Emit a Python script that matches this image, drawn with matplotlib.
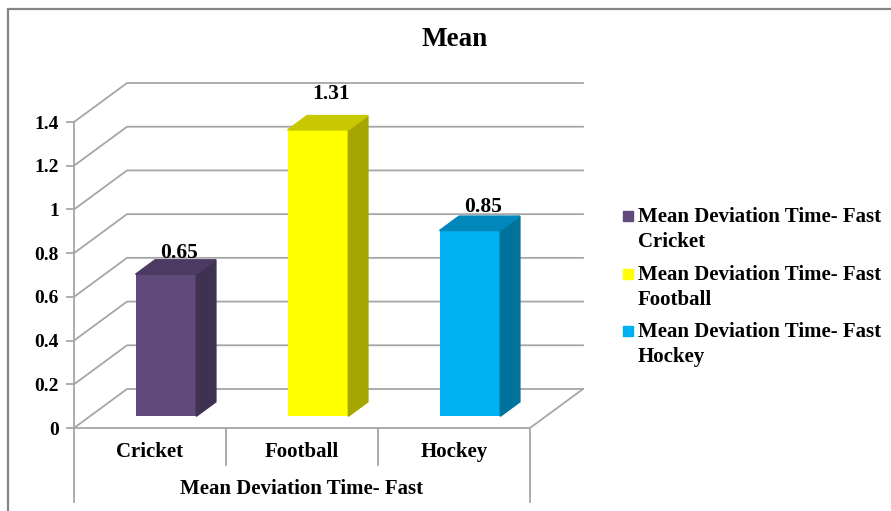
import matplotlib
matplotlib.use("Agg")
import matplotlib.pyplot as plt
from matplotlib.patches import Rectangle

plt.rcParams['font.family'] = ['Liberation Serif', 'DejaVu Serif']
plt.rcParams['font.weight'] = 'bold'

# data
categories = ['Cricket', 'Football', 'Hockey']
means = [0.65, 1.31, 0.85]
group_label = 'Mean Deviation Time- Fast'
y_ticks = [0, 0.2, 0.4, 0.6, 0.8, 1.0, 1.2, 1.4]
y_tick_labels = ['0', '0.2', '0.4', '0.6', '0.8', '1', '1.2', '1.4']

# colours: front, side, top faces
front_cols = ['#604A7B', '#FFFF00', '#00B0F0']
side_cols = ['#3F3151', '#A6A600', '#00739C']
top_cols = ['#4B3A62', '#C8C800', '#0088BA']
label_pad = [0.03, 0.10, 0.04]

W, H = 891, 511
fig = plt.figure(figsize=(W / 100, H / 100), dpi=100)

# front plane of the 3d box in pixels
px_left, px_right = 74, 530
px_top, px_bot = 122, 428
ax = fig.add_axes([px_left / W, (H - px_bot) / H,
                   (px_right - px_left) / W, (px_bot - px_top) / H])
ax.set_xlim(-0.5, 2.5)
ax.set_ylim(0, 1.4)
for s in ax.spines.values():
    s.set_visible(False)
ax.set_xticks([])
ax.set_yticks(y_ticks)
ax.set_yticklabels(y_tick_labels, fontsize=14, fontweight='bold')
ax.tick_params(axis='y', length=6, width=1.2, color='#a0a0a0', pad=5)

px_per_x = (px_right - px_left) / 3.0
px_per_y = (px_bot - px_top) / 1.4
ddx = 53 / px_per_x   # wall depth in data units
ddy = 39 / px_per_y

grid_col = '#a6a6a6'
lw = 1.3

# back wall and side wall gridlines
for v in y_ticks:
    ax.plot([-0.5, -0.5 + ddx, 2.5 + ddx], [v, v + ddy, v + ddy],
            color=grid_col, lw=lw, clip_on=False, zorder=1)
# floor front and right edges
ax.plot([-0.5, 2.5, 2.5 + ddx], [0, 0, ddy], color=grid_col, lw=lw,
        clip_on=False, zorder=1)

# axis line and category box below the floor
y_div = -(465 - px_bot) / px_per_y
y_box = -(502 - px_bot) / px_per_y
y_cat = -(452 - px_bot) / px_per_y
y_grp = -(489 - px_bot) / px_per_y
ax.plot([-0.5, -0.5], [y_box, 1.4], color=grid_col, lw=lw, clip_on=False)
ax.plot([2.5, 2.5], [y_box, 0], color=grid_col, lw=lw, clip_on=False)
for k in range(1, len(categories)):
    ax.plot([k - 0.5, k - 0.5], [y_div, 0], color=grid_col, lw=lw,
            clip_on=False)

# 3d columns
bar_w = 0.4
f0, fd = 0.3, 0.37
for i, (cat, v) in enumerate(zip(categories, means)):
    x0 = i - bar_w / 2 + f0 * ddx
    y0 = f0 * ddy
    bx, by = fd * ddx, fd * ddy
    ax.bar(x0, v, width=bar_w, bottom=y0, align='edge',
           color=front_cols[i], zorder=3, clip_on=False)
    ax.fill([x0 + bar_w, x0 + bar_w + bx, x0 + bar_w + bx, x0 + bar_w],
            [y0, y0 + by, y0 + v + by, y0 + v],
            color=side_cols[i], zorder=3, clip_on=False)
    ax.fill([x0, x0 + bar_w, x0 + bar_w + bx, x0 + bx],
            [y0 + v, y0 + v, y0 + v + by, y0 + v + by],
            color=top_cols[i], zorder=3, clip_on=False)
    ax.text(x0 + bar_w / 2 + 0.085, y0 + v + by + label_pad[i], f'{v:.2f}',
            ha='center', va='center', fontsize=15.5, fontweight='bold',
            zorder=4, clip_on=False)
    ax.text(i, y_cat, cat, ha='center', va='center',
            fontsize=15, fontweight='bold', clip_on=False)

ax.text(1, y_grp, group_label, ha='center', va='center',
        fontsize=15, fontweight='bold', clip_on=False)

# title
fig.text(455 / W, 1 - 39 / H, 'Mean', ha='center', va='center',
         fontsize=19.5, fontweight='bold')

# legend
for i, cat in enumerate(categories):
    yc = 216 + i * 57.5
    fig.patches.append(Rectangle(((623) / W, 1 - (yc + 5) / H), 10 / W, 10 / H,
                                 transform=fig.transFigure,
                                 color=front_cols[i]))
    fig.text(638 / W, 1 - (yc - 9) / H, f'{group_label}\n{cat}',
             ha='left', va='top', fontsize=15, fontweight='bold',
             linespacing=1.35)

# chart border
fig.patches.append(Rectangle((8 / W, -0.1), 1.2, 1 - 9 / H + 0.1,
                             transform=fig.transFigure, fill=False,
                             edgecolor='#858585', lw=1.6))

fig.savefig('out.png', dpi=100)
